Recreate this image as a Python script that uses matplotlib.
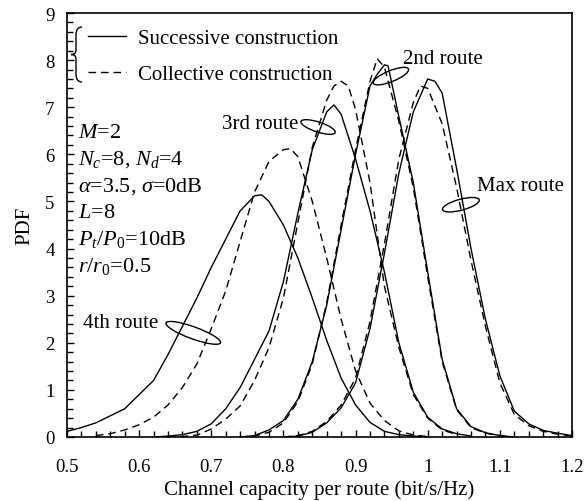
import matplotlib
matplotlib.use("Agg")
import matplotlib.pyplot as plt
from matplotlib.patches import Ellipse, PathPatch
from matplotlib.path import Path
from matplotlib.transforms import ScaledTranslation
from matplotlib.ticker import MultipleLocator

plt.rcParams['font.family'] = ['Liberation Serif', 'DejaVu Serif']
plt.rcParams['mathtext.fontset'] = 'custom'
plt.rcParams['mathtext.rm'] = 'Liberation Serif'
plt.rcParams['mathtext.it'] = 'Liberation Serif:italic'

# ---- data ----
# 4th route
s4_x = [0.50, 0.52, 0.54, 0.56, 0.58, 0.60, 0.62, 0.64, 0.66, 0.68, 0.70, 0.72, 0.74, 0.76, 0.77,
        0.78, 0.80, 0.82, 0.84, 0.86, 0.88, 0.90, 0.92, 0.94, 0.96, 0.98, 1.00]
s4_y = [0.12, 0.2, 0.3, 0.45, 0.6, 0.9, 1.2, 1.75, 2.35, 2.95, 3.6, 4.2, 4.8, 5.12, 5.14,
        5.0, 4.5, 3.8, 2.95, 2.05, 1.25, 0.68, 0.31, 0.12, 0.05, 0.02, 0.0]
c4_x = [0.54, 0.56, 0.58, 0.60, 0.62, 0.64, 0.66, 0.68, 0.70, 0.72, 0.74, 0.76, 0.78, 0.80, 0.81,
        0.82, 0.84, 0.86, 0.88, 0.90, 0.92, 0.94, 0.96, 0.98, 1.00]
c4_y = [0.03, 0.07, 0.15, 0.26, 0.42, 0.68, 1.05, 1.55, 2.3, 3.1, 4.15, 5.2, 5.85, 6.1, 6.12,
        5.95, 5.0, 3.8, 2.5, 1.4, 0.72, 0.35, 0.13, 0.04, 0.01]
# 3rd route
s3_x = [0.62, 0.64, 0.66, 0.68, 0.70, 0.72, 0.74, 0.76, 0.78, 0.80, 0.82, 0.84, 0.86, 0.87, 0.88,
        0.90, 0.92, 0.94, 0.96, 0.98, 1.00, 1.02, 1.04, 1.06]
s3_y = [0.0, 0.02, 0.05, 0.12, 0.28, 0.6, 1.05, 1.65, 2.25, 3.3, 4.75, 6.1, 6.9, 7.05, 6.85,
        5.9, 4.8, 3.5, 2.0, 0.95, 0.42, 0.17, 0.07, 0.02]
c3_x = [0.64, 0.66, 0.68, 0.70, 0.72, 0.74, 0.76, 0.78, 0.80, 0.82, 0.84, 0.86, 0.87, 0.88, 0.89,
        0.90, 0.92, 0.94, 0.96, 0.98, 1.00, 1.02, 1.04]
c3_y = [0.0, 0.01, 0.04, 0.17, 0.38, 0.66, 1.2, 1.9, 2.95, 4.55, 6.15, 7.15, 7.45, 7.55, 7.45,
        6.95, 5.4, 3.2, 1.9, 0.9, 0.4, 0.15, 0.05]
# 2nd route
s2_x = [0.74, 0.76, 0.78, 0.80, 0.82, 0.84, 0.86, 0.88, 0.90, 0.92, 0.93, 0.94, 0.945, 0.96, 0.98,
        1.00, 1.02, 1.04, 1.06, 1.08, 1.10, 1.12]
s2_y = [0.0, 0.03, 0.15, 0.35, 0.8, 1.6, 2.8, 4.4, 6.0, 7.45, 7.7, 7.9, 7.88, 6.8, 5.4,
        3.5, 1.65, 0.6, 0.22, 0.09, 0.03, 0.0]
c2_x = [0.74, 0.76, 0.78, 0.80, 0.82, 0.84, 0.86, 0.88, 0.90, 0.92, 0.93, 0.94, 0.96, 0.98, 1.00,
        1.02, 1.04, 1.06, 1.08, 1.10, 1.12]
c2_y = [0.0, 0.02, 0.1, 0.3, 0.75, 1.55, 2.85, 4.5, 6.1, 7.55, 8.03, 7.85, 6.7, 5.3, 3.4,
        1.6, 0.58, 0.2, 0.08, 0.03, 0.0]
# max route
sm_x = [0.80, 0.82, 0.84, 0.86, 0.88, 0.90, 0.92, 0.94, 0.96, 0.98, 1.00, 1.01, 1.02, 1.04, 1.06,
        1.08, 1.10, 1.12, 1.14, 1.16, 1.18, 1.20]
sm_y = [0.0, 0.02, 0.1, 0.3, 0.62, 1.15, 2.3, 3.9, 5.6, 6.9, 7.6, 7.55, 7.3, 5.7, 4.0,
        2.5, 1.3, 0.55, 0.28, 0.14, 0.08, 0.03]
cm_x = [0.80, 0.82, 0.84, 0.86, 0.88, 0.90, 0.92, 0.94, 0.96, 0.98, 0.99, 1.00, 1.02, 1.04, 1.06,
        1.08, 1.10, 1.12, 1.14, 1.16, 1.18, 1.20]
cm_y = [0.0, 0.03, 0.12, 0.33, 0.68, 1.25, 2.45, 4.1, 5.9, 7.1, 7.45, 7.4, 6.65, 5.3, 3.75,
        2.35, 1.15, 0.48, 0.24, 0.12, 0.06, 0.02]

successive = [(s4_x, s4_y), (s3_x, s3_y), (s2_x, s2_y), (sm_x, sm_y)]
collective = [(c4_x, c4_y), (c3_x, c3_y), (c2_x, c2_y), (cm_x, cm_y)]

params = ["$M$=2", "$N_c$=8, $N_d$=4", r"$\alpha$=3.5, $\sigma$=0dB", "$L$=8",
          "$P_t$/$P_0$=10dB", "$r$/$r_0$=0.5"]

fig = plt.figure(figsize=(5.84, 5.02), dpi=100)
ax = fig.add_axes([67/584, 64/502, 505/584, 424/502])

dash = (0, (5.5, 3.5))
for x, y in collective:
    ax.plot(x, y, color="black", lw=1.0, ls=dash)
for x, y in successive:
    ax.plot(x, y, color="black", lw=1.0)

ax.set_xlim(0.5, 1.2)
ax.set_ylim(0, 9)
ax.xaxis.set_major_locator(MultipleLocator(0.1))
ax.xaxis.set_minor_locator(MultipleLocator(0.02))
ax.yaxis.set_major_locator(MultipleLocator(1))
ax.yaxis.set_minor_locator(MultipleLocator(0.2))
ax.set_xticks([0.5, 0.6, 0.7, 0.8, 0.9, 1.0, 1.1, 1.2])
ax.set_xticklabels(["0.5", "0.6", "0.7", "0.8", "0.9", "1", "1.1", "1.2"])
ax.tick_params(which="both", direction="in", top=False, right=False, width=1.0, labelsize=13.5)
ax.tick_params(which="major", length=5)
ax.tick_params(which="minor", length=4)
ax.tick_params(axis="x", pad=15)
ax.tick_params(axis="y", pad=9)
for sp in ax.spines.values():
    sp.set_linewidth(1.2)

ax.set_xlabel("Channel capacity per route (bit/s/Hz)", fontsize=15, labelpad=3)
ax.set_ylabel("PDF", fontsize=15, labelpad=8)

# legend with brace
ax.legend([plt.Line2D([], [], color="black", lw=1.0),
           plt.Line2D([], [], color="black", lw=1.0, ls=dash)],
          ["Successive construction", "Collective construction"],
          loc="upper left", bbox_to_anchor=(0.042, 0.964), frameon=False,
          borderaxespad=0, borderpad=0,
          fontsize=15, handlelength=1.8, handletextpad=0.6, labelspacing=0.8)

bx = [82, 76, 76, 76, 76, 71, 76, 76, 76, 76, 82]
by = [28, 28, 36, 51, 55.5, 55.5, 55.5, 60, 75, 83, 83]
codes = [Path.MOVETO, Path.CURVE3, Path.CURVE3, Path.LINETO, Path.CURVE3, Path.CURVE3,
         Path.CURVE3, Path.CURVE3, Path.LINETO, Path.CURVE3, Path.CURVE3]
brace = Path([(u / 584, 1 - v / 502) for u, v in zip(bx, by)], codes)
fig.add_artist(PathPatch(brace, transform=fig.transFigure, fill=False, ec="black", lw=1.0))

# parameter block
for i, t in enumerate(params):
    ax.text(0.515, 6.47 - i * 0.565, t, fontsize=16, ha="left", va="center")

# route labels and ellipses
def oval(cx, cy, w, h, ang):
    tr = fig.dpi_scale_trans + ScaledTranslation(cx, cy, ax.transData)
    ax.add_patch(Ellipse((0, 0), w / 100, h / 100, angle=ang, transform=tr,
                         fill=False, ec="black", lw=1.0))

ax.text(0.821, 6.65, "3rd route", fontsize=15, ha="right", va="center")
oval(0.848, 6.58, 36, 10, -18)
ax.text(0.966, 8.03, "2nd route", fontsize=15, ha="left", va="center")
oval(0.949, 7.66, 38, 11, 22)
ax.text(1.068, 5.33, "Max route", fontsize=15, ha="left", va="center")
oval(1.046, 4.93, 38, 11, 15)
ax.text(0.522, 2.42, "4th route", fontsize=15, ha="left", va="center")
oval(0.675, 2.21, 58, 12, -20)

fig.savefig("out.png", dpi=100)
